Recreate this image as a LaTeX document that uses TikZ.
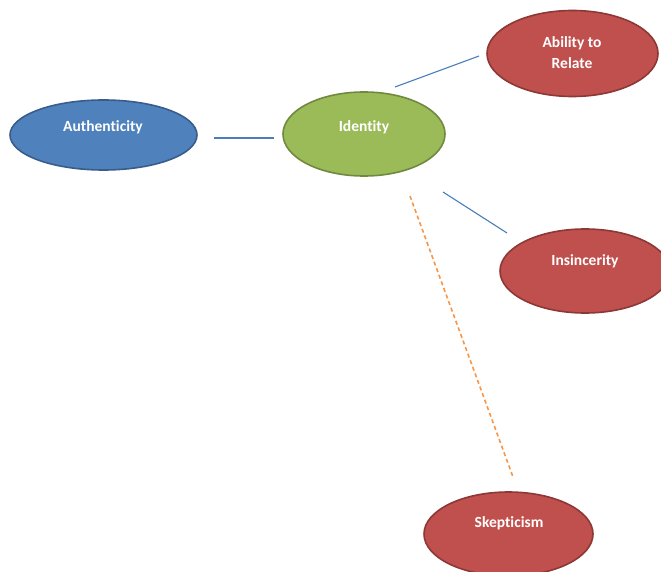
\documentclass[tikz,border=0pt]{standalone}
\usepackage{fontspec}
\setmainfont{Carlito}[Ligatures=NoCommon]
\usetikzlibrary{shapes.geometric}
\definecolor{blueF}{HTML}{4F81BD}
\definecolor{blueB}{HTML}{385D8A}
\definecolor{greenF}{HTML}{9BBB59}
\definecolor{greenB}{HTML}{71893F}
\definecolor{redF}{HTML}{C0504D}
\definecolor{redB}{HTML}{8C3836}
\definecolor{lineB}{HTML}{4A7EBB}
\definecolor{lineO}{HTML}{F79646}
\tikzset{
  oval/.style={ellipse, inner sep=0pt, line width=1.6pt},
  bluebox/.style={oval, fill=blueF, draw=blueB},
  greenbox/.style={oval, fill=greenF, draw=greenB},
  redbox/.style={oval, fill=redF, draw=redB},
  lbl/.style={text=white, font=\fontsize{15.5}{21}\selectfont\bfseries, align=center, inner sep=0pt},
  conn/.style={draw=lineB, line width=1.1pt},
  dconn/.style={draw=lineO, line width=1.6pt, dash pattern=on 4pt off 3pt},
}
\begin{document}
\begin{tikzpicture}[x=1pt, y=-1pt]
\useasboundingbox (0,0) rectangle (661,572);
\clip (0,0) rectangle (661,572);
\fill[white] (0,0) rectangle (661,572);
% ellipses
\node[bluebox, minimum width=187pt, minimum height=70pt] (auth) at (103.5,135) {};
\node[greenbox, minimum width=162pt, minimum height=84pt] (iden) at (364,134) {};
\node[redbox, minimum width=171pt, minimum height=86pt] (abil) at (572.5,53.5) {};
\node[redbox, minimum width=170pt, minimum height=84pt] (insi) at (585,271) {};
\node[redbox, minimum width=169pt, minimum height=84pt] (skep) at (508.5,534) {};
% labels
\node[lbl] (authT) at (103,127) {Authenticity};
\node[lbl] (idenT) at (364,127) {Identity};
\node[lbl] (abilT) at (572,52.5) {Ability to\\Relate};
\node[lbl] (insiT) at (585,261) {Insincerity};
\node[lbl] (skepT) at (509,523) {Skepticism};
% connector ends
\coordinate (a1) at (214,138);
\coordinate (a2) at (274,138);
\coordinate (b1) at (395,87);
\coordinate (b2) at (479,56);
\coordinate (c1) at (443,192);
\coordinate (c2) at (507,233);
\coordinate (d1) at (410,196);
\coordinate (d2) at (513,477);
\draw[conn] (a1) -- (a2);
\draw[conn] (b1) -- (b2);
\draw[conn] (c1) -- (c2);
\draw[dconn] (d1) -- (d2);
\end{tikzpicture}
\end{document}
